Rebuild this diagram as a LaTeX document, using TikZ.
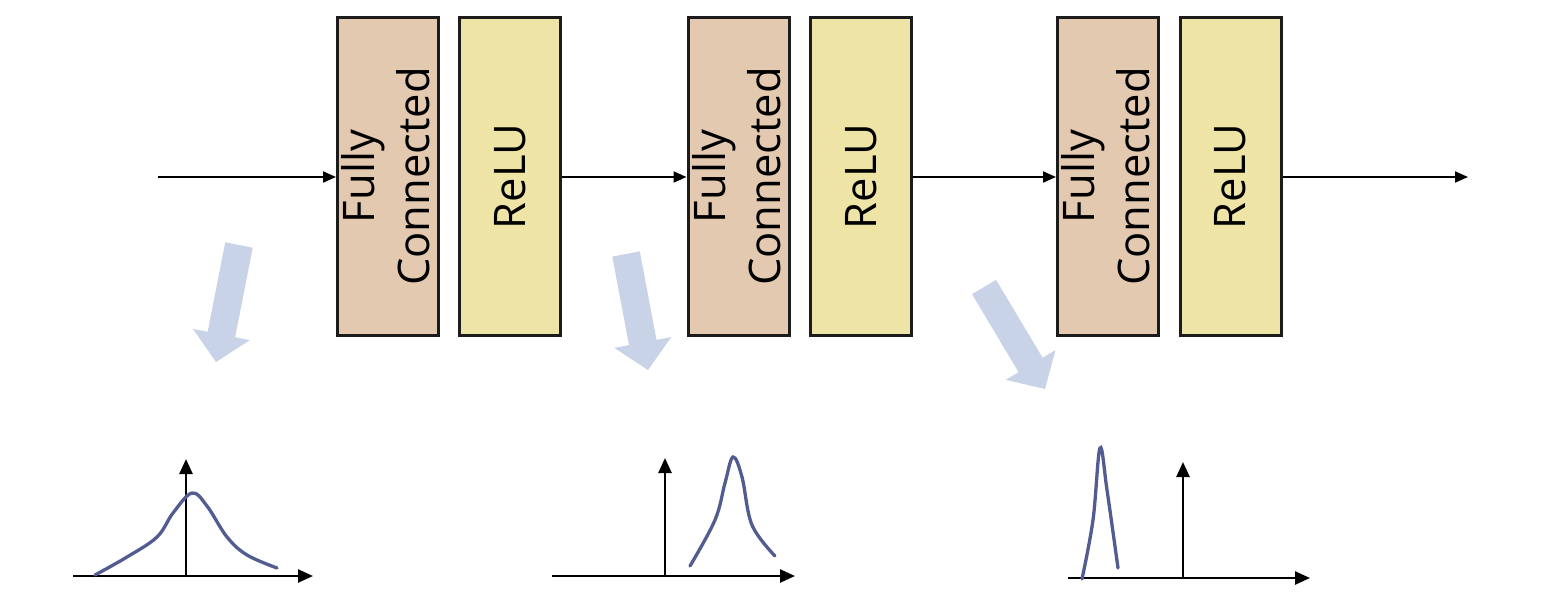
\documentclass[tikz,border=0pt]{standalone}
\usepackage{fontspec}
\setmainfont{Open Sans}
\usetikzlibrary{arrows.meta,calc}
\definecolor{fcfill}{HTML}{E3C9B0}
\definecolor{relufill}{HTML}{EEE4A6}
\definecolor{bluearrow}{HTML}{C8D3E7}
\definecolor{curvecol}{HTML}{535C91}
\definecolor{edgecol}{HTML}{1C1C1C}
\newcommand\hintarrow[2]{%
  \coordinate (#1h) at ($(#2)!28pt!(#1)$);
  \fill[hint] ($(#1)!14pt!90:(#2)$) -- ($(#1h)!14pt!90:(#2)$) -- ($(#1h)!29pt!90:(#2)$) -- (#2)
    -- ($(#1h)!29pt!-90:(#2)$) -- ($(#1h)!14pt!-90:(#2)$) -- ($(#1)!14pt!-90:(#2)$) -- cycle;}
\newcommand\fctext{\makebox[0pt]{\hspace{6pt}\rotatebox{90}{\begin{tabular}{@{}c@{}}Fully\\Connected\end{tabular}}}}
\newcommand\relutext{\makebox[0pt]{\rotatebox{90}{ReLU}}}
\begin{document}
\begin{tikzpicture}[x=1pt,y=-1pt,
  layer/.style={draw=edgecol, line width=3pt, minimum width=101pt, minimum height=318pt, inner sep=0pt, font=\fontsize{43.5}{55}\selectfont},
  fc/.style={layer, fill=fcfill},
  relu/.style={layer, fill=relufill},
  flow/.style={line width=2pt, -{Triangle[length=13pt,width=11pt]}},
  axis/.style={line width=2.5pt, -{Triangle[length=15pt,width=13pt]}},
  dist/.style={draw=curvecol, line width=3.3pt, line cap=round},
  hint/.style={fill=bluearrow}]
\useasboundingbox (0,0) rectangle (1556,610);
% layers
\node[fc] (fc1) at (388,176.5) {\fctext};
\node[relu] (relu1) at (510,176.5) {\relutext};
\node[fc] (fc2) at (738.5,176.5) {\fctext};
\node[relu] (relu2) at (861,176.5) {\relutext};
\node[fc] (fc3) at (1108,176.5) {\fctext};
\node[relu] (relu3) at (1230.5,176.5) {\relutext};
\coordinate (in) at (158,177);
\coordinate (out) at (1468,177);
\draw[flow] (in) -- (fc1.west |- in);
\draw[flow] (relu1.east |- in) -- (fc2.west |- in);
\draw[flow] (relu2.east |- in) -- (fc3.west |- in);
\draw[flow] (relu3.east |- in) -- (out);
% blue hint arrows
\coordinate (a1) at (239,245); \coordinate (b1) at (216,362);
\coordinate (a2) at (626,254); \coordinate (b2) at (648,370);
\coordinate (a3) at (984,287); \coordinate (b3) at (1045,389);
\hintarrow{a1}{b1}
\hintarrow{a2}{b2}
\hintarrow{a3}{b3}
% plot 1
\coordinate (p1o) at (186,576); \coordinate (p1l) at (73,576);
\coordinate (p1r) at (313,576); \coordinate (p1t) at (186,459);
\draw[axis] (p1l) -- (p1r);
\draw[axis] (p1o) -- (p1t);
\draw[dist] plot[smooth, tension=0.6] coordinates {(95,575) (127,557) (157,537) (173,513) (192,493) (207,506) (227,537) (247,555) (277,568)};
% plot 2
\coordinate (p2o) at (665,576); \coordinate (p2l) at (552,576);
\coordinate (p2r) at (795,576); \coordinate (p2t) at (665,458);
\draw[axis] (p2l) -- (p2r);
\draw[axis] (p2o) -- (p2t);
\draw[dist] plot[smooth, tension=0.6] coordinates {(690,566) (715,520) (725,483) (733,457) (742,477) (752,525) (775,556)};
% plot 3
\coordinate (p3o) at (1183,578); \coordinate (p3l) at (1068,578);
\coordinate (p3r) at (1310,578); \coordinate (p3t) at (1183,462);
\draw[axis] (p3l) -- (p3r);
\draw[axis] (p3o) -- (p3t);
\draw[dist] plot[smooth, tension=0.6] coordinates {(1082,579) (1093,520) (1100,448) (1107,490) (1118,568)};
\end{tikzpicture}
\end{document}
